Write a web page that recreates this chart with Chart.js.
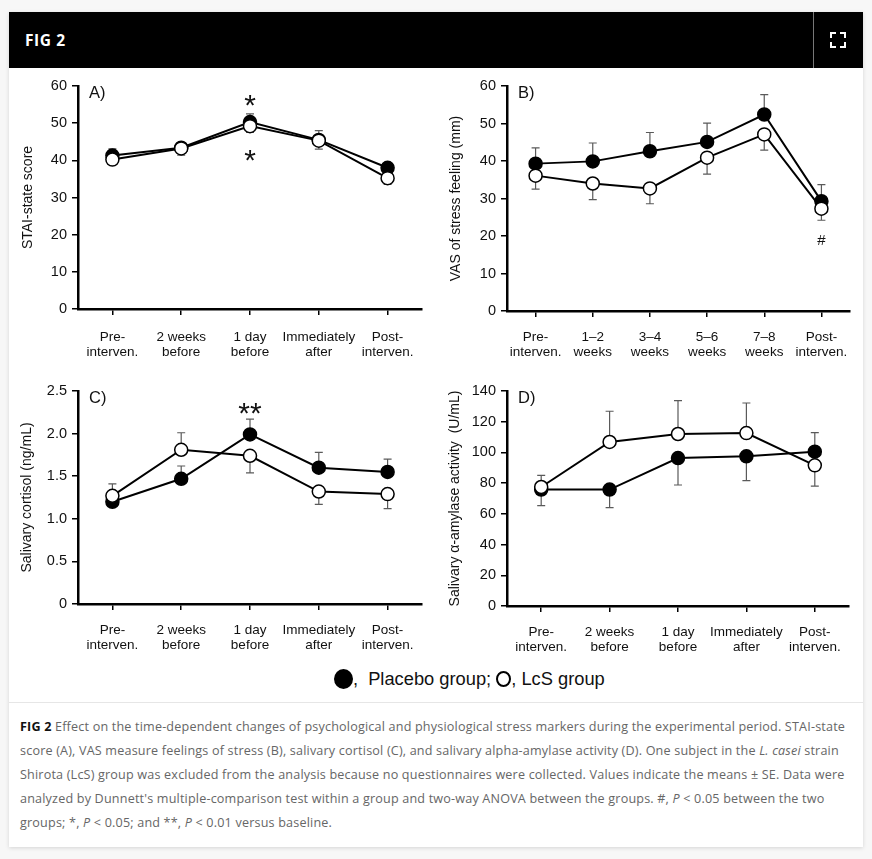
<!DOCTYPE html>
<html>
<head>
<meta charset="utf-8">
<script src="https://cdn.jsdelivr.net/npm/chart.js@4.4.0/dist/chart.umd.min.js"></script>
<style>
  body { margin: 0; background: #f7f7f7; width: 872px; height: 859px; position: relative; overflow: hidden; }
  .card { position: absolute; left: 9px; top: 12px; width: 854px; height: 835px; background: #fff; box-shadow: 0 1px 4px rgba(0,0,0,0.14); }
  .head { position: absolute; left: 0; top: 0; width: 854px; height: 56px; background: #000; }
  .head .ttl { position: absolute; left: 16px; top: 0; color: #fff; font: bold 15.5px "Open Sans", sans-serif; letter-spacing: 0.6px; line-height: 56px; }
  .head .div { position: absolute; left: 804px; top: 0; width: 1px; height: 56px; background: #777; }
  .head svg { position: absolute; left: 821px; top: 20px; }
  .sep { position: absolute; left: 0; top: 690px; width: 854px; height: 1px; background: #e6e6e6; }
  canvas { position: absolute; }
  .legend { position: absolute; left: 334px; top: 667px; font: 18.3px "Liberation Sans", Arial, sans-serif; color: #111; white-space: nowrap; line-height: 24px; }
  .legend .gap { margin-left: 5px; }
  .dot { display: inline-block; border-radius: 50%; box-sizing: border-box; }
  .dot.full { width: 19px; height: 20px; background: #000; vertical-align: -4px; }
  .dot.open { width: 15px; height: 16px; border: 2px solid #000; background: #fff; margin-left: 0; vertical-align: -2px; }
  .cap { position: absolute; left: 20px; top: 715px; font: 12.6px "Open Sans", sans-serif; letter-spacing: 0.18px; color: #666; line-height: 24px; white-space: nowrap; }
  .cap b { color: #111; }
</style>
</head>
<body>
<div class="card">
  <div class="head">
    <div class="ttl">FIG 2</div>
    <div class="div"></div>
    <svg width="16" height="16" viewBox="0 0 16 16">
      <path d="M1 6V1h5M10 1h5v5M15 10v5h-5M6 15H1v-5" fill="none" stroke="#fff" stroke-width="2"/>
    </svg>
  </div>
  <div class="sep"></div>
</div>

<canvas id="cA" width="420" height="300" style="left:10px;top:70px"></canvas>
<canvas id="cB" width="432" height="300" style="left:430px;top:70px"></canvas>
<canvas id="cC" width="420" height="290" style="left:10px;top:375px"></canvas>
<canvas id="cD" width="432" height="290" style="left:430px;top:375px"></canvas>

<div class="legend"><span class="dot full"></span>,<span class="gap"> Placebo group;</span> <span class="dot open"></span>, LcS group</div>

<div class="cap">
<b>FIG 2</b> Effect on the time-dependent changes of psychological and physiological stress markers during the experimental period. STAI-state<br>
score (A), VAS measure feelings of stress (B), salivary cortisol (C), and salivary alpha-amylase activity (D). One subject in the <i>L. casei</i> strain<br>
Shirota (LcS) group was excluded from the analysis because no questionnaires were collected. Values indicate the means ± SE. Data were<br>
analyzed by Dunnett's multiple-comparison test within a group and two-way ANOVA between the groups. #, <i>P</i> &lt; 0.05 between the two<br>
groups; *, <i>P</i> &lt; 0.05; and **, <i>P</i> &lt; 0.01 versus baseline.
</div>

<script>
// time points
const periodLabels = [['Pre-', 'interven.'], ['2 weeks', 'before'], ['1 day', 'before'], ['Immediately', 'after'], ['Post-', 'interven.']];
const weekLabels = [['Pre-', 'interven.'], ['1–2', 'weeks'], ['3–4', 'weeks'], ['5–6', 'weeks'], ['7–8', 'weeks'], ['Post-', 'interven.']];

// A) STAI-state score
const stai_placebo = [41.3, 43.4, 50.3, 45.5, 38.0];
const stai_placeboSE = [1.8, 1.1, 2.2, 2.5, 1.2];
const stai_placeboDir = [1, 1, 1, 1, 1];
const stai_lcs = [40.2, 43.2, 49.2, 45.3, 35.2];
const stai_lcsSE = [1.0, 1.8, 1.7, 2.3, 1.7];
const stai_lcsDir = [-1, -1, -1, -1, -1];

// B) VAS of stress feeling
const vas_placebo = [39.3, 39.9, 42.6, 45.1, 52.4, 29.3];
const vas_placeboSE = [4.2, 4.9, 5.0, 5.0, 5.3, 4.4];
const vas_placeboDir = [1, 1, 1, 1, 1, 1];
const vas_lcs = [36.1, 34.0, 32.7, 40.9, 47.1, 27.3];
const vas_lcsSE = [3.6, 4.3, 4.1, 4.4, 4.2, 3.1];
const vas_lcsDir = [-1, -1, -1, -1, -1, -1];

// C) salivary cortisol
const cort_placebo = [1.20, 1.47, 1.99, 1.60, 1.55];
const cort_placeboSE = [0.05, 0.15, 0.18, 0.18, 0.15];
const cort_placeboDir = [-1, 1, 1, 1, 1];
const cort_lcs = [1.27, 1.81, 1.74, 1.32, 1.29];
const cort_lcsSE = [0.14, 0.20, 0.20, 0.15, 0.17];
const cort_lcsDir = [1, 1, -1, -1, -1];

// D) salivary alpha-amylase
const amy_placebo = [75.8, 75.8, 96.3, 97.5, 100.5];
const amy_placeboSE = [10.5, 11.8, 17.5, 15.9, 12.4];
const amy_placeboDir = [-1, -1, -1, -1, 1];
const amy_lcs = [77.5, 106.8, 112.0, 112.6, 91.6];
const amy_lcsSE = [7.5, 20.0, 21.7, 19.6, 13.6];
const amy_lcsDir = [1, 1, 1, 1, -1];

// significance marks: [text, point index, value]
const stai_marks = [['*', 2, 56.0], ['*', 2, 41.4]];
const vas_marks = [['#', 5, 19.0]];
const cort_marks = [['**', 2, 2.29]];
const amy_marks = [];

const FONT = '"Liberation Sans", Arial, sans-serif';

const errorBars = {
    id: 'errorBars',
    beforeDatasetsDraw(chart) {
        const {ctx, scales: {x, y}} = chart;
        ctx.save();
        ctx.strokeStyle = '#5a5a5a';
        ctx.lineWidth = 1.2;
        chart.data.datasets.forEach(ds => {
            ds.data.forEach((v, i) => {
                const px = x.getPixelForValue(i);
                const y0 = y.getPixelForValue(v);
                const y1 = y.getPixelForValue(v + ds.dir[i] * ds.err[i]);
                ctx.beginPath();
                ctx.moveTo(px, y0);
                ctx.lineTo(px, y1);
                ctx.moveTo(px - 4, y1);
                ctx.lineTo(px + 4, y1);
                ctx.stroke();
            });
        });
        ctx.restore();
    }
};

const marks = {
    id: 'marks',
    afterDatasetsDraw(chart, args, opts) {
        const {ctx, chartArea, scales: {x, y}} = chart;
        ctx.save();
        ctx.fillStyle = '#111';
        ctx.textAlign = 'left';
        ctx.textBaseline = 'middle';
        ctx.font = '16.5px ' + FONT;
        ctx.fillText(opts.panel, chartArea.left + 11, chartArea.top + 7);
        ctx.textAlign = 'center';
        ctx.textBaseline = 'alphabetic';
        opts.list.forEach(([t, i, v]) => {
            ctx.font = (t === '#' ? '15px ' : '30px ') + FONT;
            const m = ctx.measureText(t);
            const cy = y.getPixelForValue(v);
            ctx.fillText(t, x.getPixelForValue(i), cy + (m.actualBoundingBoxAscent - m.actualBoundingBoxDescent) / 2);
        });
        ctx.restore();
    }
};

function panel(id, labels, placebo, placeboSE, placeboDir, lcs, lcsSE, lcsDir, yMax, yStep, yTitle, panelName, list, g) {
    const point = {borderColor: '#000', borderWidth: 2, pointRadius: 6.5, pointBorderColor: '#000', pointBorderWidth: 1.5, tension: 0};
    return new Chart(document.getElementById(id), {
        type: 'line',
        data: {
            labels: labels,
            datasets: [
                Object.assign({label: 'LcS group', data: lcs, err: lcsSE, dir: lcsDir, pointBackgroundColor: '#fff', order: 0}, point),
                Object.assign({label: 'Placebo group', data: placebo, err: placeboSE, dir: placeboDir, pointBackgroundColor: '#000', order: 1}, point)
            ]
        },
        options: {
            responsive: false,
            animation: false,
            layout: {padding: {top: g.top, right: g.right, left: 0, bottom: 0}},
            plugins: {
                legend: {display: false},
                tooltip: {enabled: false},
                marks: {panel: panelName, list: list}
            },
            scales: {
                x: {
                    offset: true,
                    grid: {offset: false, drawOnChartArea: false, tickLength: 6, color: '#000', lineWidth: 1.5},
                    border: {color: '#000', width: 2.5},
                    ticks: {font: {family: FONT, size: 13.5, lineHeight: 1.1}, color: '#111', padding: g.xp, maxRotation: 0, autoSkip: false},
                    afterFit: s => { s.height = g.xh; }
                },
                y: {
                    min: 0,
                    max: yMax,
                    grid: {drawOnChartArea: false, tickLength: 6, color: '#000', lineWidth: 1.5},
                    border: {color: '#000', width: 2.5},
                    ticks: {
                        stepSize: yStep,
                        font: {family: FONT, size: 14.5},
                        color: '#111',
                        padding: 5,
                        callback: v => (yStep < 1 && v !== 0) ? v.toFixed(1) : v
                    },
                    title: {display: true, text: yTitle, font: {family: FONT, size: 14}, color: '#111', padding: {top: g.tp, bottom: 0}},
                    afterFit: s => { s.width = g.yw; }
                }
            }
        },
        plugins: [errorBars, marks]
    });
}

panel('cA', periodLabels, stai_placebo, stai_placeboSE, stai_placeboDir, stai_lcs, stai_lcsSE, stai_lcsDir,
    60, 10, 'STAI-state score', 'A)', stai_marks, {top: 16, right: 8, xh: 61, yw: 68, tp: 10, xp: 15});
panel('cB', weekLabels, vas_placebo, vas_placeboSE, vas_placeboDir, vas_lcs, vas_lcsSE, vas_lcsDir,
    60, 10, 'VAS of stress feeling (mm)', 'B)', vas_marks, {top: 16, right: 12, xh: 59, yw: 77, tp: 18, xp: 13});
panel('cC', periodLabels, cort_placebo, cort_placeboSE, cort_placeboDir, cort_lcs, cort_lcsSE, cort_lcsDir,
    2.5, 0.5, 'Salivary cortisol (ng/mL)', 'C)', cort_marks, {top: 16, right: 7, xh: 61, yw: 68, tp: 9, xp: 13});
panel('cD', periodLabels, amy_placebo, amy_placeboSE, amy_placeboDir, amy_lcs, amy_lcsSE, amy_lcsDir,
    140, 20, 'Salivary α-amylase activity  (U/mL)', 'D)', amy_marks, {top: 16, right: 13, xh: 59, yw: 77, tp: 17, xp: 13});
</script>
</body>
</html>
